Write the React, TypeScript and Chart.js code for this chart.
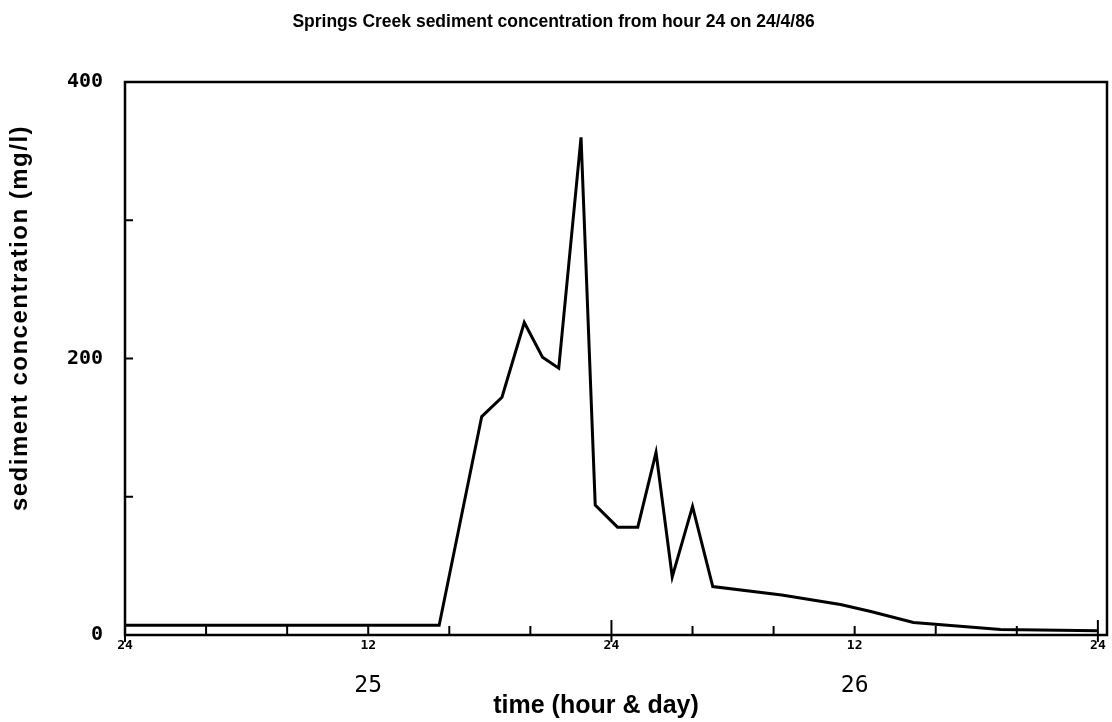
import React, { useEffect, useRef } from "react";
import { Chart, registerables } from "chart.js";

Chart.register(...registerables);

const titleText = "Springs Creek sediment concentration from hour 24 on 24/4/86";
const xTitle = "time (hour & day)";
const yTitle = "sediment concentration (mg/l)";

// hours elapsed since hour 24 on 24/4/86
const hours = [0, 15.5, 17.6, 18.6, 19.7, 20.6, 21.4, 22.5, 23.2, 24.3, 25.3, 26.2, 27.0, 28.0, 29.0, 32.4, 35.3, 36.8, 38.9, 43.2, 48];
const sediment = [7, 7, 158, 172, 226, 201, 193, 360, 94, 78, 78, 132, 42, 93, 35, 29, 22, 17, 9, 4, 3];

const hourTicks = [0, 4, 8, 12, 16, 20, 24, 28, 32, 36, 40, 44, 48];
const hourLabels: Record<number, string> = { 0: "24", 12: "12", 24: "24", 36: "12", 48: "24" };
const dayTicks = [12, 36];
const dayLabels: Record<number, string> = { 12: "25", 36: "26" };
const yTicks = [0, 100, 200, 300, 400];
const yLabels: Record<number, string> = { 0: "0", 200: "200", 400: "400" };

const X_MAX = 48.45;

const framePlugin = {
  id: "frame",
  afterDraw(chart: any) {
    const { ctx, chartArea } = chart;
    const xs = chart.scales.x;
    const ys = chart.scales.y;
    ctx.save();
    ctx.strokeStyle = "#000";
    ctx.lineWidth = 2.5;
    ctx.strokeRect(chartArea.left, chartArea.top, chartArea.right - chartArea.left, chartArea.bottom - chartArea.top);
    ctx.lineWidth = 2;
    for (const v of hourTicks) {
      const px = xs.getPixelForValue(v);
      ctx.beginPath();
      if (v % 24 === 0) {
        ctx.moveTo(px, chartArea.bottom - 15);
        ctx.lineTo(px, chartArea.bottom + 7);
      } else {
        ctx.moveTo(px, chartArea.bottom - 9);
        ctx.lineTo(px, chartArea.bottom);
      }
      ctx.stroke();
    }
    for (const v of yTicks) {
      const py = ys.getPixelForValue(v);
      ctx.beginPath();
      ctx.moveTo(chartArea.left, py);
      ctx.lineTo(chartArea.left + 8, py);
      ctx.stroke();
    }
    // axis titles
    ctx.fillStyle = "#000";
    ctx.textAlign = "center";
    ctx.textBaseline = "middle";
    ctx.font = "bold 25px 'Liberation Sans', Arial, sans-serif";
    ctx.fillText(xTitle, 596, 706);
    ctx.translate(20, 318);
    ctx.rotate(-Math.PI / 2);
    ctx.font = "bold 24px 'Liberation Sans', Arial, sans-serif";
    try {
      (ctx as any).letterSpacing = "1.5px";
    } catch (e) {}
    ctx.fillText(yTitle, 0, 0);
    ctx.restore();
  },
};

export default function App() {
  const ref = useRef<HTMLCanvasElement>(null);
  useEffect(() => {
    if (!ref.current) return;
    const chart = new Chart(ref.current, {
      type: "line",
      data: {
        datasets: [
          {
            data: hours.map((h, i) => ({ x: h, y: sediment[i] })),
            borderColor: "#000",
            borderWidth: 3,
            pointRadius: 0,
            tension: 0,
            fill: false,
          },
        ],
      },
      options: {
        animation: false,
        responsive: false,
        maintainAspectRatio: false,
        layout: { padding: { left: 0, right: 5, top: 0, bottom: 0 } },
        plugins: {
          legend: { display: false },
          tooltip: { enabled: false },
          title: {
            display: true,
            text: titleText,
            color: "#000",
            font: { family: "'Liberation Sans', Arial, sans-serif", size: 17.5, weight: "bold" },
            padding: { top: 11.5, bottom: 49.5 },
          },
        },
        scales: {
          x: {
            type: "linear",
            position: "bottom",
            min: 0,
            max: X_MAX,
            grid: { display: false, drawTicks: false },
            border: { display: false },
            afterBuildTicks: (s: any) => {
              s.ticks = hourTicks.map((v) => ({ value: v }));
            },
            afterFit: (s: any) => {
              s.height = 20;
            },
            ticks: {
              autoSkip: false,
              maxRotation: 0,
              padding: 3,
              color: "#000",
              font: { family: "'DejaVu Sans Mono', monospace", size: 13, weight: "bold" },
              callback: (v: any) => hourLabels[Number(v)] ?? "",
            },
          },
          x2: {
            type: "linear",
            position: "bottom",
            min: 0,
            max: X_MAX,
            grid: { display: false, drawTicks: false },
            border: { display: false },
            afterBuildTicks: (s: any) => {
              s.ticks = dayTicks.map((v) => ({ value: v }));
            },
            afterFit: (s: any) => {
              s.height = 67;
            },
            ticks: {
              autoSkip: false,
              maxRotation: 0,
              padding: 17,
              color: "#000",
              font: { family: "'DejaVu Sans Mono', monospace", size: 23 },
              callback: (v: any) => dayLabels[Number(v)] ?? "",
            },
          },
          y: {
            type: "linear",
            min: 0,
            max: 400,
            grid: { display: false, drawTicks: false },
            border: { display: false },
            afterBuildTicks: (s: any) => {
              s.ticks = yTicks.map((v) => ({ value: v }));
            },
            afterFit: (s: any) => {
              s.width = 125;
            },
            ticks: {
              padding: 22,
              color: "#000",
              font: { family: "'DejaVu Sans Mono', monospace", size: 20, weight: "bold" },
              callback: (v: any) => yLabels[Number(v)] ?? "",
            },
          },
        },
      },
      plugins: [framePlugin],
    });
    return () => chart.destroy();
  }, []);
  return (
    <div style={{ position: "fixed", left: 0, top: 0, width: 1112, height: 722, background: "#fff" }}>
      <canvas ref={ref} width={1112} height={722} style={{ display: "block", width: 1112, height: 722 }} />
    </div>
  );
}
